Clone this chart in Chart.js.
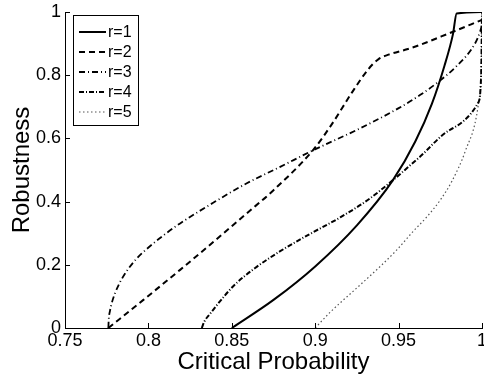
<!DOCTYPE html>
<html>
<head>
<meta charset="utf-8">
<script src="https://cdn.jsdelivr.net/npm/chart.js@4/dist/chart.umd.min.js"></script>
<style>
    html, body { margin: 0; padding: 0; background: #fff; }
</style>
</head>
<body>
<canvas id="robustness" width="484" height="374"></canvas>
<script>
// values
const seriesNames = ['r=1', 'r=2', 'r=3', 'r=4', 'r=5'];

const xR1 = [0.85, 0.875, 0.9, 0.925, 0.9466, 0.96, 0.97, 0.9775, 0.9826, 0.9848, 1];
const yR1 = [0, 0.089, 0.195, 0.325, 0.468, 0.59, 0.71, 0.83, 0.93, 0.995, 1];

const xR2 = [0.776, 0.797, 0.819, 0.84, 0.859, 0.875, 0.8987, 0.91, 0.922, 0.932, 0.938, 0.944, 0.955, 0.9628, 0.98, 1];
const yR2 = [0, 0.089, 0.184, 0.277, 0.363, 0.436, 0.563, 0.645, 0.745, 0.82, 0.851, 0.865, 0.882, 0.896, 0.932, 0.975];

const xR3 = [0.776, 0.7762, 0.777, 0.778, 0.78, 0.783, 0.787, 0.793, 0.799, 0.809, 0.819, 0.84, 0.859, 0.879, 0.899, 0.925, 0.9498, 0.9628, 0.9736, 0.985, 0.9958, 0.9988, 1];
const yR3 = [0, 0.025, 0.055, 0.078, 0.11, 0.145, 0.18, 0.22, 0.25, 0.293, 0.331, 0.40, 0.458, 0.51, 0.563, 0.627, 0.695, 0.737, 0.778, 0.83, 0.90, 0.937, 0.96];

const xR4 = [0.832, 0.8335, 0.837, 0.843, 0.851, 0.864, 0.879, 0.897, 0.915, 0.9315, 0.9466, 0.9628, 0.9808, 0.9976, 0.9995, 1];
const yR4 = [0, 0.02, 0.045, 0.085, 0.133, 0.19, 0.243, 0.298, 0.35, 0.405, 0.468, 0.542, 0.627, 0.712, 0.8, 1];

const xR5 = [0.9, 0.909, 0.925, 0.94, 0.9489, 0.9586, 0.967, 0.975, 0.982, 0.99, 0.9976, 0.9995, 1];
const yR5 = [0, 0.05, 0.127, 0.2, 0.247, 0.305, 0.352, 0.405, 0.465, 0.56, 0.70, 0.82, 1];

const xTicks = [0.75, 0.8, 0.85, 0.9, 0.95, 1];
const xTickLabels = ['0.75', '0.8', '0.85', '0.9', '0.95', '1'];
const yTicks = [0, 0.2, 0.4, 0.6, 0.8, 1];
const yTickLabels = ['0', '0.2', '0.4', '0.6', '0.8', '1'];

const toPoints = (xs, ys) => xs.map((x, i) => ({ x: x, y: ys[i] }));

Chart.defaults.font.family = '"Liberation Sans", Arial, Helvetica, sans-serif';
Chart.defaults.color = '#000';

// matlab style ticks point into the plot
const inwardTicks = {
    id: 'inwardTicks',
    afterDraw(chart) {
        const { ctx, chartArea, scales } = chart;
        ctx.save();
        ctx.strokeStyle = '#000';
        ctx.lineWidth = 1;
        scales.x.ticks.forEach(t => {
            const px = Math.round(scales.x.getPixelForValue(t.value)) + 0.5;
            ctx.beginPath();
            ctx.moveTo(px, chartArea.bottom);
            ctx.lineTo(px, chartArea.bottom - 5);
            ctx.stroke();
        });
        scales.y.ticks.forEach(t => {
            const py = Math.round(scales.y.getPixelForValue(t.value)) + 0.5;
            ctx.beginPath();
            ctx.moveTo(chartArea.left, py);
            ctx.lineTo(chartArea.left + 5, py);
            ctx.stroke();
        });
        ctx.restore();
    }
};

// legend box in the upper left corner
const boxLegend = {
    id: 'boxLegend',
    afterDraw(chart) {
        const ctx = chart.ctx;
        const left = 73, top = 15, w = 65, h = 110;
        ctx.save();
        ctx.fillStyle = '#fff';
        ctx.fillRect(left, top, w, h);
        ctx.strokeStyle = '#000';
        ctx.lineWidth = 1;
        ctx.strokeRect(left + 0.5, top + 0.5, w, h);
        ctx.font = '16px "Liberation Sans", Arial, sans-serif';
        ctx.textBaseline = 'middle';
        chart.data.datasets.forEach((ds, i) => {
            const y = top + 17 + i * 20;
            ctx.beginPath();
            ctx.setLineDash(ds.borderDash || []);
            ctx.strokeStyle = ds.borderColor;
            ctx.lineWidth = ds.borderWidth;
            ctx.moveTo(left + 6, y);
            ctx.lineTo(left + 33, y);
            ctx.stroke();
            ctx.setLineDash([]);
            ctx.fillStyle = '#000';
            ctx.fillText(ds.label, left + 35, y + 1);
        });
        ctx.restore();
    }
};

const ctx = document.getElementById('robustness');

new Chart(ctx, {
    type: 'line',
    data: {
        datasets: [{
            label: seriesNames[0],
            data: toPoints(xR1, yR1),
            borderColor: '#000',
            borderWidth: 2,
            borderDash: []
        }, {
            label: seriesNames[1],
            data: toPoints(xR2, yR2),
            borderColor: '#000',
            borderWidth: 2,
            borderDash: [6, 4]
        }, {
            label: seriesNames[2],
            data: toPoints(xR3, yR3),
            borderColor: '#000',
            borderWidth: 1.8,
            borderDash: [6, 3, 1, 3]
        }, {
            label: seriesNames[3],
            data: toPoints(xR4, yR4),
            borderColor: '#000',
            borderWidth: 2,
            borderDash: [5, 2, 1, 2]
        }, {
            label: seriesNames[4],
            data: toPoints(xR5, yR5),
            borderColor: '#555',
            borderWidth: 1.2,
            borderDash: [1.5, 2.5]
        }]
    },
    options: {
        responsive: false,
        animation: false,
        devicePixelRatio: 1,
        layout: {
            padding: { left: 0, right: 2, top: 12, bottom: 0 }
        },
        elements: {
            point: { radius: 0 },
            line: { cubicInterpolationMode: 'monotone', fill: false }
        },
        plugins: {
            legend: false,
            tooltip: {
                enabled: false
            }
        },
        scales: {
            x: {
                type: 'linear',
                min: 0.75,
                max: 1,
                afterBuildTicks: scale => {
                    scale.ticks = xTicks.map(v => ({ value: v }));
                },
                afterFit: scale => {
                    scale.height = 46;
                    scale.paddingLeft = 0;
                    scale.paddingRight = 0;
                },
                ticks: {
                    callback: (v, i) => xTickLabels[i],
                    font: { size: 18 },
                    padding: 2,
                    maxRotation: 0,
                    autoSkip: false
                },
                grid: {
                    display: false,
                    drawTicks: false
                },
                border: {
                    display: true,
                    color: '#000',
                    width: 1
                },
                title: {
                    display: true,
                    text: 'Critical Probability',
                    font: { size: 24, lineHeight: 1 },
                    padding: { top: 0, bottom: 0 }
                }
            },
            y: {
                min: 0,
                max: 1,
                afterBuildTicks: scale => {
                    scale.ticks = yTicks.map(v => ({ value: v }));
                },
                afterFit: scale => {
                    scale.width = 65;
                    scale.paddingTop = 0;
                    scale.paddingBottom = 0;
                },
                ticks: {
                    callback: (v, i) => yTickLabels[i],
                    font: { size: 18 },
                    padding: 4,
                    autoSkip: false
                },
                grid: {
                    display: false,
                    drawTicks: false
                },
                border: {
                    display: true,
                    color: '#000',
                    width: 1
                },
                title: {
                    display: true,
                    text: 'Robustness',
                    font: { size: 24, lineHeight: 1 },
                    padding: { top: 10, bottom: 0 }
                }
            }
        }
    },
    plugins: [inwardTicks, boxLegend]
});
</script>
</body>
</html>
